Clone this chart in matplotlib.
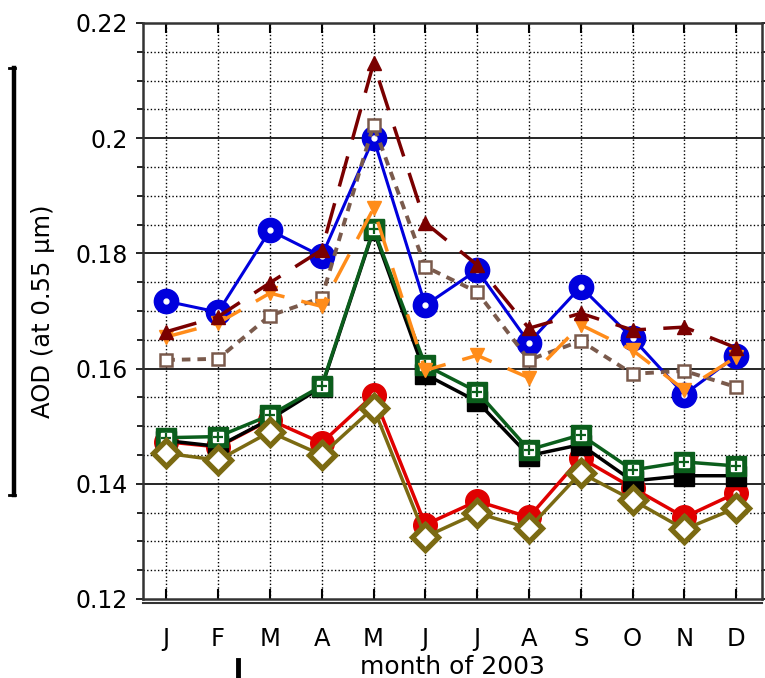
import matplotlib
matplotlib.use('Agg')
import matplotlib.pyplot as plt
from matplotlib.lines import Line2D
from matplotlib.ticker import MultipleLocator
import numpy as np

months = ['J', 'F', 'M', 'A', 'M', 'J', 'J', 'A', 'S', 'O', 'N', 'D']
blue = [0.1717, 0.1698, 0.1840, 0.1795, 0.2000, 0.1710, 0.1771, 0.1645, 0.1742, 0.1653, 0.1555, 0.1622]
maroon = [0.1664, 0.1690, 0.1749, 0.1806, 0.2130, 0.1853, 0.1780, 0.1670, 0.1696, 0.1667, 0.1672, 0.1636]
orange = [0.1655, 0.1679, 0.1731, 0.1708, 0.1878, 0.1597, 0.1623, 0.1584, 0.1676, 0.1632, 0.1563, 0.1620]
brown = [0.1615, 0.1617, 0.1692, 0.1723, 0.2023, 0.1777, 0.1733, 0.1615, 0.1648, 0.1591, 0.1596, 0.1568]
green = [0.1480, 0.1482, 0.1519, 0.1570, 0.1842, 0.1606, 0.1560, 0.1459, 0.1485, 0.1424, 0.1438, 0.1431]
black = [0.1475, 0.1465, 0.1512, 0.1568, 0.1840, 0.1590, 0.1543, 0.1449, 0.1468, 0.1405, 0.1414, 0.1414]
red = [0.1473, 0.1464, 0.1511, 0.1471, 0.1554, 0.1329, 0.1370, 0.1342, 0.1445, 0.1393, 0.1342, 0.1384]
olive = [0.1453, 0.1441, 0.1490, 0.1450, 0.1532, 0.1308, 0.1349, 0.1323, 0.1419, 0.1372, 0.1321, 0.1358]

plt.rcParams['font.family'] = ['DejaVu Sans']
W, H = 765, 678
fig = plt.figure(figsize=(W / 100, H / 100), dpi=100)
ax = fig.add_axes([143 / W, 1 - 599 / H, (762 - 143) / W, (599 - 23) / H])

x = np.arange(1, 13)

C_BLUE = '#0000dd'
C_RED = '#e00000'
C_OLIVE = '#7b6a12'
C_GREEN = '#0b5e1c'
C_MAROON = '#7a0000'
C_ORANGE = '#ff8c1a'
C_BROWN = '#7a5a4c'

# lower group
ax.plot(x, red, color=C_RED, lw=2.5, marker='o', ms=17, mfc=C_RED, mec=C_RED, zorder=3)
ax.plot(x, red, ls='none', marker='o', ms=3.5, mfc='white', mec='white', zorder=3.1)
ax.plot(x, black, color='black', lw=2.5, marker='s', ms=15, mfc='black', mec='black', zorder=4)
ax.plot(x, green, color=C_GREEN, lw=2.5, marker='s', ms=15, mfc=C_GREEN, mec=C_GREEN, zorder=5)
ax.plot(x, green, ls='none', marker='s', ms=6.5, mfc='white', mec='white', zorder=5.1)
ax.plot(x, green, ls='none', marker='+', ms=7.5, mew=1.6, color=C_GREEN, zorder=5.2)
ax.plot(x, olive, color=C_OLIVE, lw=2.5, marker='D', ms=13, mfc='white', mec=C_OLIVE, mew=3.8, zorder=6)

# upper group
ax.plot(x, blue, color=C_BLUE, lw=2.2, marker='o', ms=17.5, mfc=C_BLUE, mec=C_BLUE, zorder=7)
ax.plot(x, blue, ls='none', marker='o', ms=3.5, mfc='white', mec='white', zorder=7.1)
ax.plot(x, brown, color=C_BROWN, lw=2.8, ls=(0, (2.2, 1.8)), marker='s', ms=8, mfc='white', mec=C_BROWN, mew=1.8, zorder=8)
ax.plot(x, orange, color=C_ORANGE, lw=2.5, ls=(0, (9, 5)), marker='v', ms=10, mfc=C_ORANGE, mec=C_ORANGE, zorder=9)
ax.plot(x, maroon, color=C_MAROON, lw=2.5, ls=(0, (9, 5)), marker='^', ms=10, mfc=C_MAROON, mec=C_MAROON, zorder=10)

ax.set_xlim(0.55, 12.5)
ax.set_ylim(0.12, 0.22)
ax.set_xticks(x)
ax.set_xticklabels(months)
ax.set_yticks([0.12, 0.14, 0.16, 0.18, 0.2, 0.22])
ax.set_yticklabels(['0.12', '0.14', '0.16', '0.18', '0.2', '0.22'])
ax.yaxis.set_minor_locator(MultipleLocator(0.005))

ax.tick_params(axis='x', direction='in', length=7, width=1.5, top=True, bottom=True,
               labelsize=17.5, pad=20)
ax.tick_params(axis='y', which='both', direction='out', length=5, width=1.2, left=True, right=True,
               labelsize=17, pad=6)
ax.tick_params(axis='y', which='minor', length=4)

# grid
for v in np.arange(0.125, 0.22, 0.005):
    if abs(v / 0.02 - round(v / 0.02)) < 1e-6:
        ax.axhline(v, color='black', lw=1.2, zorder=1)
    else:
        ax.axhline(v, color='black', lw=1.0, ls=(0, (1, 1.6)), zorder=1)
for xi in x:
    ax.axvline(xi, color='black', lw=1.0, ls=(0, (1, 1.6)), zorder=1)

for s in ax.spines.values():
    s.set_linewidth(1.8)
    s.set_color('#333333')

ax.set_xlabel('month of 2003', fontsize=18, labelpad=3)
ax.set_ylabel('AOD (at 0.55 µm)', fontsize=17.5, labelpad=15)

# doubled bottom frame line
fig.add_artist(Line2D([143 / W, 762 / W], [1 - 603 / H, 1 - 603 / H], color='#333333', lw=1.5))

# stray marks present in the original image
fig.add_artist(Line2D([14 / W, 14 / W], [1 - 68 / H, 1 - 495 / H], color='black', lw=3.2))
fig.add_artist(Line2D([9 / W, 15 / W], [1 - 68 / H, 1 - 68 / H], color='black', lw=2))
fig.add_artist(Line2D([9 / W, 15 / W], [1 - 495 / H, 1 - 495 / H], color='black', lw=2))
fig.add_artist(Line2D([238 / W, 238 / W], [1 - 660 / H, 0.0], color='black', lw=3.5))

fig.savefig('out.png', dpi=100)
